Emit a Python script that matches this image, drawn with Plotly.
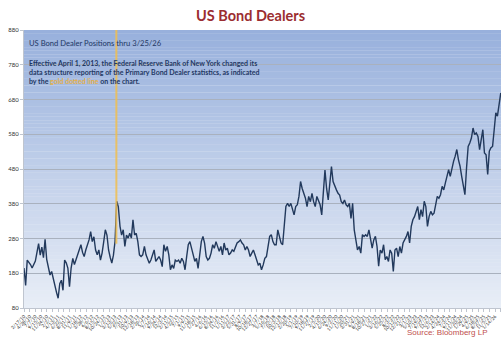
import pandas as pd
import plotly.graph_objects as go

# ---- data: US primary dealer bond positions (readings, $bn) ----
START_DATE = "2010-02-17"
END_DATE = "2026-03-25"

POSITIONS_2010_2014 = [
    195, 145, 218, 212, 205, 195, 207, 215, 240, 265,
    232, 255, 225, 278, 220, 192, 175, 185, 162, 145,
    125, 108, 150, 160, 131, 218, 210, 195, 141, 195,
    223, 205, 220, 233, 247, 262, 240, 228, 247, 262,
    276, 300, 271, 285, 247, 233, 247, 218, 238, 270,
    305, 290, 247, 226, 209, 232, 272, 387, 372, 315,
    290, 305, 257, 290, 281, 295, 281, 334, 290, 295,
    271, 233, 228, 233, 257, 233, 218, 209,
]
POSITIONS_2014_2018 = [
    218, 234, 247, 214, 223, 228, 218, 199, 262, 243,
    257, 233, 190, 204, 194, 218, 214, 218, 209, 223,
    214, 190, 228, 262, 271, 247, 233, 214, 223, 194,
    228, 271, 286, 267, 228, 218, 223, 238, 262, 252,
    271, 257, 243, 257, 233, 267, 247, 252, 233, 238,
    247, 243, 257, 267, 271, 276, 267, 262, 247, 257,
    247, 228, 238, 247, 233, 214, 204, 209, 190, 204,
    223, 228, 257, 286, 291, 271, 262,
]
POSITIONS_2018_2022 = [
    262, 305, 281, 267, 262, 319, 372, 381, 372, 381,
    367, 348, 372, 377, 401, 444, 424, 410, 396, 372,
    401, 386, 410, 386, 372, 401, 391, 377, 348, 420,
    477, 424, 391, 439, 487, 444, 434, 420, 410, 405,
    386, 381, 391, 377, 372, 381, 338, 381, 305, 276,
    247, 257, 238, 291, 286, 291, 286, 305, 281, 252,
    276, 286, 257, 200, 247, 238, 262, 219, 228, 214,
    247, 238, 185, 247, 252, 228, 257, 238,
]
POSITIONS_2022_2026 = [
    267, 276, 286, 300, 267, 315, 334, 343, 358, 372,
    334, 363, 343, 387, 372, 315, 343, 358, 348, 353,
    377, 401, 396, 406, 430, 420, 440, 459, 478, 459,
    483, 502, 517, 536, 507, 488, 459, 430, 406, 483,
    545, 555, 569, 598, 579, 584, 574, 536, 569, 593,
    526, 521, 464, 531, 541, 545, 593, 642, 632, 661,
    699,
]

Y_TICKS = [80, 180, 280, 380, 480, 580, 680, 780, 880]
GOLD_DATE = "2013-04-01"      # NY Fed reporting change
GOLD_BASE = 265

positions = (POSITIONS_2010_2014 + POSITIONS_2014_2018
             + POSITIONS_2018_2022 + POSITIONS_2022_2026)
dates = pd.date_range(START_DATE, END_DATE, periods=len(positions)).normalize()

tick_dates = pd.date_range(START_DATE, END_DATE, freq="70D")
tick_text = [f"{d.month}/{d.day}/{d:%y}" for d in tick_dates]

NAVY = "#1F3864"
FONT = "Lato"

fig = go.Figure()

fig.add_trace(go.Scatter(
    x=dates, y=positions, mode="lines",
    line=dict(color="#22395C", width=1.4),
    hoverinfo="skip", showlegend=False,
))

# vertical gradient plot background, drawn as thin bands under the grid
def mix(c1, c2, t):
    a = [int(c1[i:i + 2], 16) for i in (1, 3, 5)]
    b = [int(c2[i:i + 2], 16) for i in (1, 3, 5)]
    return "rgb(%d,%d,%d)" % tuple(round(a[k] + (b[k] - a[k]) * t) for k in range(3))

BOTTOM_COL, TOP_COL = "#E9EEF7", "#97B0DC"
n_bands = 80
lo, hi = Y_TICKS[0], Y_TICKS[-1]
step = (hi - lo) / n_bands
shapes = []
for i in range(n_bands):
    shapes.append(dict(
        type="rect", xref="x domain", yref="y", layer="below",
        x0=0, x1=1, y0=lo + i * step, y1=lo + (i + 1) * step + 0.5,
        line=dict(width=0), fillcolor=mix(BOTTOM_COL, TOP_COL, (i + 0.5) / n_bands),
    ))

# gold marker for the reporting change
shapes.append(dict(
    type="line", xref="x", yref="y", layer="above",
    x0=GOLD_DATE, x1=GOLD_DATE, y0=GOLD_BASE, y1=hi,
    line=dict(color="rgba(240,190,80,0.85)", width=2),
))

fig.update_layout(
    width=501, height=347,
    margin=dict(l=24, r=0, t=30, b=39),
    paper_bgcolor="white", plot_bgcolor=BOTTOM_COL,
    shapes=shapes,
    title=dict(
        text="<b>US Bond Dealers</b>", x=0.5, xref="container",
        y=1 - 16 / 347, yref="container", xanchor="center", yanchor="middle",
        font=dict(family=FONT, size=14.5, color="#9B2D30"),
    ),
    xaxis=dict(
        type="date", range=[dates[0], pd.Timestamp(END_DATE) + pd.Timedelta(days=3)],
        tickmode="array", tickvals=tick_dates, ticktext=tick_text,
        tickangle=-45, tickfont=dict(family=FONT, size=4.7, color="#2A2A2A"),
        showgrid=False, showline=True, linecolor="#BFC5CF", linewidth=1,
        ticks="outside", ticklen=3, tickcolor="#BFC5CF", zeroline=False,
    ),
    yaxis=dict(
        range=[lo, hi], tickmode="array", tickvals=Y_TICKS,
        tickfont=dict(family=FONT, size=6, color="#333333"),
        showgrid=True, gridcolor="#A9B1BE", gridwidth=1,
        showline=True, linecolor="#BFC5CF", linewidth=1,
        ticks="outside", ticklen=3, tickcolor="#BFC5CF", zeroline=False,
    ),
    annotations=[
        dict(
            text="US Bond Dealer Positions thru 3/25/26",
            xref="paper", yref="paper", x=0.006, y=(308 - 43) / 278,
            xanchor="left", yanchor="middle", showarrow=False,
            font=dict(family=FONT, size=7.6, color=NAVY),
        ),
        dict(
            text=("<b>Effective April 1, 2013, the Federal Reserve Bank of New York changed its<br>"
                  "data structure reporting of the Primary Bond Dealer statistics, as indicated<br>"
                  "by the <span style='color:#E3B04B'>gold dotted line</span> on the chart.</b>"),
            xref="paper", yref="paper", x=0.006, y=(308 - 57) / 278,
            xanchor="left", yanchor="top", align="left", showarrow=False,
            font=dict(family=FONT, size=7, color=NAVY),
        ),
        dict(
            text="Source: Bloomberg LP",
            xref="paper", yref="paper", x=(490 - 24) / 477, y=(308 - 333) / 278,
            xanchor="right", yanchor="middle", showarrow=False,
            font=dict(family="Liberation Sans", size=8, color="#C0504D"),
        ),
    ],
)

fig.write_html("out.html")
